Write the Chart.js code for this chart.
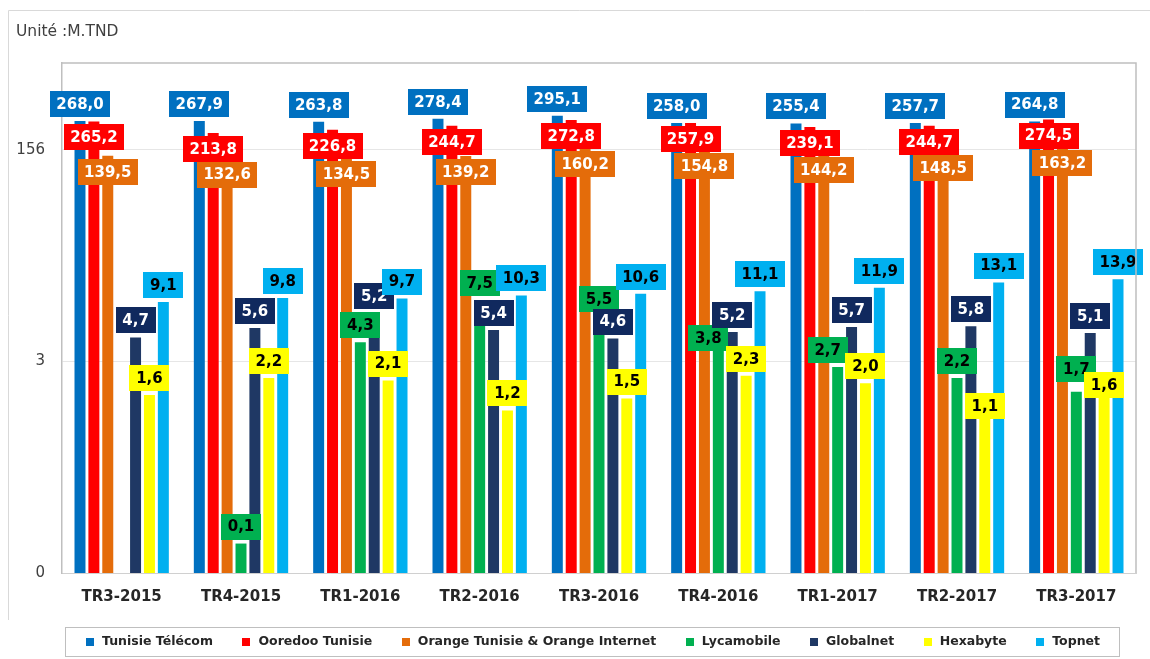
<!DOCTYPE html>
<html lang="fr">
<head>
<meta charset="utf-8">
<title>Chiffre d'affaires - Unité M.TND</title>
<script src="https://cdn.jsdelivr.net/npm/chart.js@4.4.0/dist/chart.umd.min.js"></script>
<style>
    html, body { margin: 0; padding: 0; background: #fff; }
    #wrap { width: 1150px; height: 659px; }
</style>
</head>
<body>
<div id="wrap"><canvas id="chart" width="1150" height="659"></canvas></div>
<script>
const categories = ["TR3-2015", "TR4-2015", "TR1-2016", "TR2-2016", "TR3-2016", "TR4-2016", "TR1-2017", "TR2-2017", "TR3-2017"];

const tunisieTelecom = [268.0, 267.9, 263.8, 278.4, 295.1, 258.0, 255.4, 257.7, 264.8];
const ooredoo        = [265.2, 213.8, 226.8, 244.7, 272.8, 257.9, 239.1, 244.7, 274.5];
const orange         = [139.5, 132.6, 134.5, 139.2, 160.2, 154.8, 144.2, 148.5, 163.2];
const lycamobile     = [null, 0.1, 4.3, 7.5, 5.5, 3.8, 2.7, 2.2, 1.7];
const globalnet      = [4.7, 5.6, 5.2, 5.4, 4.6, 5.2, 5.7, 5.8, 5.1];
const hexabyte       = [1.6, 2.2, 2.1, 1.2, 1.5, 2.3, 2.0, 1.1, 1.6];
const topnet         = [9.1, 9.8, 9.7, 10.3, 10.6, 11.1, 11.9, 13.1, 13.9];

const seriesNames = ["Tunisie Télécom", "Ooredoo Tunisie", "Orange Tunisie & Orange Internet", "Lycamobile", "Globalnet", "Hexabyte", "Topnet"];
const seriesData  = [tunisieTelecom, ooredoo, orange, lycamobile, globalnet, hexabyte, topnet];

// axe log en base 52 : 0 (=3/52), 3, 156
const yTicks      = [3 / 52, 3, 156];
const yTickLabels = ["0", "3", "156"];
const yMax        = 790;

const unitLabel = "Unité :M.TND";

// styles
const barColors   = ["#0070C0", "#FF0000", "#E46C0A", "#00B050", "#1F3864", "#FFFF00", "#00B0F0"];
const labelBg     = ["#0070C0", "#FF0000", "#E46C0A", "#00B050", "#10295E", "#FFFF00", "#00B0F0"];
const labelColor  = ["#fff", "#fff", "#fff", "#000", "#fff", "#000", "#000"];
const labelInside = [false, true, true, false, false, false, false];
// étiquettes déplacées à la main dans l'original : "série-catégorie": [dx, dy]
const labelShift = {
    "4-2": [0, -19],
    "3-3": [0, -12],
    "3-4": [0, -13],
    "3-5": [-10, 6],
    "3-6": [-10, 0],
    "5-7": [0, 8],
    "3-8": [0, -6],
    "5-8": [0, 7]
};

const FONT = '"DejaVu Sans", Verdana, sans-serif';

// étiquettes de valeurs
const valueLabels = {
    id: "valueLabels",
    afterDatasetsDraw(chart) {
        const ctx = chart.ctx;
        ctx.save();
        ctx.font = "bold 15px " + FONT;
        ctx.textAlign = "center";
        ctx.textBaseline = "middle";
        chart.data.datasets.forEach((ds, di) => {
            const meta = chart.getDatasetMeta(di);
            meta.data.forEach((bar, i) => {
                const v = ds.data[i];
                if (v == null) return;
                const txt = v.toFixed(1).replace(".", ",");
                const [dx, dy] = labelShift[di + "-" + i] || [0, 0];
                const w = Math.round(ctx.measureText(txt).width + 13);
                const h = 26;
                const cx = bar.x + dx;
                const top = (labelInside[di] ? bar.y + 3 : bar.y - 4 - h) + dy;
                ctx.fillStyle = labelBg[di];
                ctx.fillRect(Math.round(cx - w / 2), Math.round(top), w, h);
                ctx.fillStyle = labelColor[di];
                ctx.fillText(txt, cx, top + h / 2 + 1);
            });
        });
        ctx.restore();
    }
};

// cadres, titre et légende
const decorations = {
    id: "decorations",
    beforeDraw(chart) {
        const ctx = chart.ctx;
        ctx.save();
        ctx.strokeStyle = "#d9d9d9";
        ctx.lineWidth = 1;
        ctx.beginPath();
        ctx.moveTo(8.5, 620);
        ctx.lineTo(8.5, 10.5);
        ctx.lineTo(1150, 10.5);
        ctx.stroke();
        ctx.restore();
    },
    afterDraw(chart) {
        const ctx = chart.ctx;
        const a = chart.chartArea;
        ctx.save();

        // cadre de la zone de tracé (haut, droite)
        ctx.strokeStyle = "#bfbfbf";
        ctx.lineWidth = 1.5;
        ctx.beginPath();
        ctx.moveTo(a.left, a.top);
        ctx.lineTo(a.right, a.top);
        ctx.lineTo(a.right, a.bottom);
        ctx.stroke();

        // unité
        ctx.fillStyle = "#404040";
        ctx.font = "15.5px " + FONT;
        ctx.textAlign = "left";
        ctx.textBaseline = "middle";
        ctx.fillText(unitLabel, 16, 32);

        // légende
        ctx.strokeStyle = "#bfbfbf";
        ctx.lineWidth = 1;
        ctx.strokeRect(65.5, 627.5, 1054, 29);
        ctx.font = "bold 12.5px " + FONT;
        const widths = seriesNames.map(n => 16 + ctx.measureText(n).width);
        const start = 86, end = 1100;
        const gap = (end - start - widths.reduce((s, w) => s + w, 0)) / (seriesNames.length - 1);
        let x = start;
        seriesNames.forEach((name, i) => {
            ctx.fillStyle = barColors[i];
            ctx.fillRect(Math.round(x), 638, 8, 8);
            ctx.fillStyle = "#262626";
            ctx.fillText(name, x + 16, 642);
            x += widths[i] + gap;
        });
        ctx.restore();
    }
};

const datasets = seriesNames.map((name, i) => ({
    label: name,
    data: seriesData[i],
    backgroundColor: barColors[i],
    borderWidth: 0,
    categoryPercentage: 0.815,
    barPercentage: 0.79
}));

new Chart(document.getElementById("chart"), {
    type: "bar",
    data: { labels: categories, datasets: datasets },
    options: {
        responsive: false,
        animation: false,
        devicePixelRatio: 1,
        layout: { padding: { left: 0, right: 14, top: 63, bottom: 46 } },
        plugins: {
            legend: { display: false },
            title: { display: false },
            tooltip: { enabled: false }
        },
        scales: {
            x: {
                afterFit(scale) { scale.height = 40; },
                grid: { display: false, drawTicks: false },
                border: { display: true, color: "#d0d0d0", width: 1 },
                ticks: {
                    padding: 15,
                    color: "#262626",
                    font: { family: FONT, size: 15, weight: "bold" }
                }
            },
            y: {
                type: "logarithmic",
                min: yTicks[0],
                max: yMax,
                afterFit(scale) { scale.width = 62; },
                afterBuildTicks(scale) {
                    scale.ticks = yTicks.map(v => ({ value: v }));
                },
                grid: { color: "#e6e6e6", drawTicks: false },
                border: { display: true, color: "#bfbfbf", width: 1.5 },
                ticks: {
                    autoSkip: false,
                    padding: 17,
                    color: "#404040",
                    font: { family: FONT, size: 15 },
                    callback: (v, i) => yTickLabels[i]
                }
            }
        }
    },
    plugins: [valueLabels, decorations]
});
</script>
</body>
</html>
